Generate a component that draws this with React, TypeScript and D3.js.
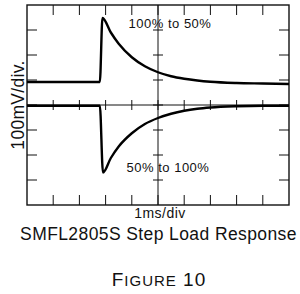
import React from "react";
import * as d3 from "d3";

// time in ms (1ms/div), output deviation in mV (100mV/div)
const unloadTime = [0, 2.78, 2.88, 3.2, 3.5, 4.0, 4.5, 5.0, 5.5, 6.0, 6.5, 7.0, 8.0, 9.0, 10.0];
const unloadMv = [92, 92, 348, 290, 245, 191, 155, 131, 115, 105, 98, 93, 88, 86, 84];

const loadTime = [0, 2.78, 2.9, 3.2, 3.5, 4.0, 4.5, 5.0, 5.5, 6.0, 6.5, 7.0, 8.0, 9.0, 10.0];
const loadMv = [-3, -3, -270, -212, -166, -113, -76, -52, -35, -23, -15, -10, -5, -3, -3];

const traceLabels = ["100% to 50%", "50% to 100%"];
const xLabel = "1ms/div";
const yLabel = "100mV/div.";
const title = "SMFL2805S Step Load Response";

const FONT = "'Liberation Sans', Arial, Helvetica, sans-serif";

export default function App() {
  const x = d3.scaleLinear().domain([0, 10]).range([27, 289]);
  const y = d3.scaleLinear().domain([-400, 400]).range([205, 5]);

  const line = d3
    .line<number>()
    .x((d) => x(d))
    .curve(d3.curveMonotoneX);

  const topPath = line.y((_, i) => y(unloadMv[i]))(unloadTime) || "";
  const botPath = line.y((_, i) => y(loadMv[i]))(loadTime) || "";

  const xt = x.ticks(10).slice(1, -1);
  const yt = y.ticks(8).slice(1, -1);
  const [x0, x1] = x.range();
  const [y0, y1] = [y(400), y(-400)];
  const xc = x(5);
  const yc = y(0);
  const tick = 10;
  const half = 5;

  return (
    <svg width={300} height={294} style={{ position: "absolute", left: 0, top: 0, background: "#fff" }} fontFamily={FONT}>
      <g stroke="#111" strokeWidth={1} fill="none">
        {/* frame */}
        <rect x={x0} y={y0} width={x1 - x0} height={y1 - y0} strokeWidth={1.4} />
        {/* center axes */}
        <line x1={x0} x2={x1} y1={yc} y2={yc} />
        <line x1={xc} x2={xc} y1={y0} y2={y1} />
        {xt.map((t) => (
          <g key={"x" + t}>
            <line x1={x(t)} x2={x(t)} y1={y0} y2={y0 + tick} />
            <line x1={x(t)} x2={x(t)} y1={y1} y2={y1 - tick} />
            <line x1={x(t)} x2={x(t)} y1={yc - half} y2={yc + half} />
          </g>
        ))}
        {yt.map((t) => (
          <g key={"y" + t}>
            <line x1={x0} x2={x0 + tick} y1={y(t)} y2={y(t)} />
            <line x1={x1} x2={x1 - tick} y1={y(t)} y2={y(t)} />
            <line x1={xc - half} x2={xc + half} y1={y(t)} y2={y(t)} />
          </g>
        ))}
      </g>
      <path d={topPath} fill="none" stroke="#000" strokeWidth={2.4} strokeLinejoin="miter" />
      <path d={botPath} fill="none" stroke="#000" strokeWidth={2.4} strokeLinejoin="miter" />

      <text x={170} y={28} fontSize={13} letterSpacing={0.5} textAnchor="middle" fill="#111">
        {traceLabels[0]}
      </text>
      <text x={168} y={172} fontSize={13} letterSpacing={0.5} textAnchor="middle" fill="#111">
        {traceLabels[1]}
      </text>
      <text x={160} y={218} fontSize={14} letterSpacing={0.5} textAnchor="middle" fill="#111">
        {xLabel}
      </text>
      <text
        transform={`translate(24,${(y0 + y1) / 2}) rotate(-90)`}
        fontSize={17.5}
        letterSpacing={0.3}
        textAnchor="middle"
        fill="#111"
      >
        {yLabel}
      </text>
      <text x={158.5} y={240} fontSize={17.5} letterSpacing={0.4} textAnchor="middle" fill="#111">
        {title}
      </text>
      <text x={159} y={286} textAnchor="middle" fill="#111" letterSpacing={1}>
        <tspan fontSize={19}>F</tspan>
        <tspan fontSize={15}>IGURE</tspan>
        <tspan fontSize={19}> 10</tspan>
      </text>
    </svg>
  );
}
